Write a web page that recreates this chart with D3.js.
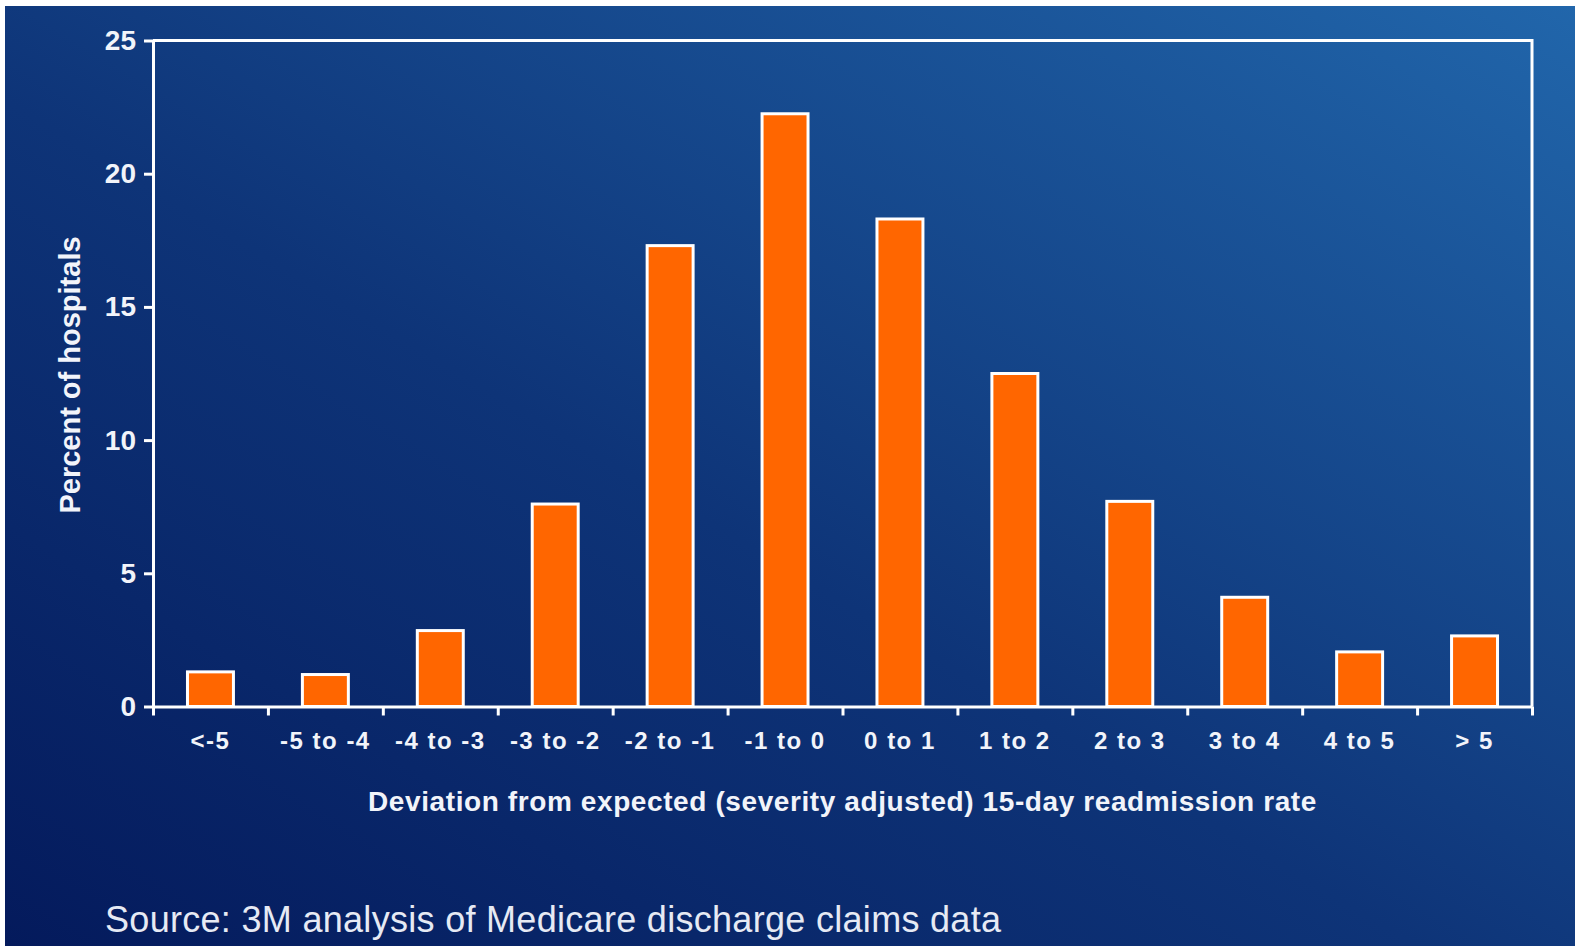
<!DOCTYPE html>
<html>
<head>
<meta charset="utf-8">
<script src="https://cdn.jsdelivr.net/npm/d3@7"></script>
<style>
  body { margin: 0; background: #ffffff; }
  svg { display: block; }
  .tick text { fill: #f2f4fa; font-family: "Liberation Sans", Arial, sans-serif; font-weight: bold; }
  .domain, .tick line { stroke: #ffffff; stroke-width: 3; }
</style>
</head>
<body>
<div class="graphic"></div>
<script>
var width = 1575;
var height = 946;

// data
var categories = ["<-5", "-5 to -4", "-4 to -3", "-3 to -2", "-2 to -1", "-1 to 0",
                  "0 to 1", "1 to 2", "2 to 3", "3 to 4", "4 to 5", "> 5"];
var percentHospitals = [1.3, 1.2, 2.85, 7.6, 17.3, 22.25, 18.3, 12.5, 7.7, 4.1, 2.05, 2.65];
var yTicks = [0, 5, 10, 15, 20, 25];

var plotLeft = 153, plotRight = 1532, plotTop = 40.5, plotBottom = 706.5;

var svg = d3.select("div.graphic").append("svg")
	.attr("width", width)
	.attr("height", height);

// background gradient, dark lower left to lighter upper right
var grad = svg.append("defs").append("linearGradient")
	.attr("id", "bg")
	.attr("x1", 0).attr("y1", 1)
	.attr("x2", 1).attr("y2", 0);
grad.append("stop").attr("offset", "0%").attr("stop-color", "#041a5c");
grad.append("stop").attr("offset", "45%").attr("stop-color", "#0e3478");
grad.append("stop").attr("offset", "100%").attr("stop-color", "#2166ab");

svg.append("rect")
	.attr("x", 5).attr("y", 6)
	.attr("width", width - 5).attr("height", height - 6)
	.attr("fill", "url(#bg)");

var x = d3.scaleBand()
	.domain(categories)
	.range([plotLeft, plotRight])
	.paddingInner(0.6)
	.paddingOuter(0.3);

var xEdges = d3.scaleLinear()
	.domain([0, categories.length])
	.range([plotLeft, plotRight]);

var y = d3.scaleLinear()
	.domain([0, 25])
	.range([plotBottom, plotTop]);

// bars
svg.append("g").selectAll("rect")
	.data(percentHospitals)
	.enter()
	.append("rect")
	.attr("x", function(d, i){ return x(categories[i]); })
	.attr("y", function(d){ return y(d); })
	.attr("width", x.bandwidth())
	.attr("height", function(d){ return plotBottom - y(d); })
	.attr("fill", "#ff6600")
	.attr("stroke", "#ffffff")
	.attr("stroke-width", 3);

// frame top and right
svg.append("line")
	.attr("x1", plotLeft).attr("x2", plotRight)
	.attr("y1", plotTop).attr("y2", plotTop)
	.attr("stroke", "#fff").attr("stroke-width", 3);
svg.append("line")
	.attr("x1", plotRight).attr("x2", plotRight)
	.attr("y1", plotTop - 1.5).attr("y2", plotBottom)
	.attr("stroke", "#fff").attr("stroke-width", 3);

// y axis
var yAxis = svg.append("g")
	.attr("transform", "translate(" + plotLeft + ",0)")
	.call(d3.axisLeft(y).tickValues(yTicks).tickSize(9).tickSizeOuter(0).tickPadding(8));
yAxis.selectAll(".tick text").attr("font-size", 28);

// x axis: boundary ticks
svg.append("g")
	.attr("transform", "translate(0," + plotBottom + ")")
	.call(d3.axisBottom(xEdges).tickValues(d3.range(categories.length + 1))
		.tickFormat("").tickSize(9).tickSizeOuter(0));

// x axis: labels
var xAxis = svg.append("g")
	.attr("transform", "translate(0," + plotBottom + ")")
	.call(d3.axisBottom(x).tickSize(0).tickPadding(25));
xAxis.select(".domain").remove();
xAxis.selectAll(".tick text")
	.attr("font-size", 24)
	.attr("letter-spacing", 1.5);

// axis titles
svg.append("text")
	.attr("x", (plotLeft + plotRight) / 2)
	.attr("y", 811)
	.attr("text-anchor", "middle")
	.attr("font-family", "Liberation Sans, Arial, sans-serif")
	.attr("font-weight", "bold")
	.attr("font-size", 28)
	.attr("letter-spacing", 0.6)
	.attr("fill", "#f2f4fa")
	.text("Deviation from expected (severity adjusted) 15-day readmission rate");

svg.append("text")
	.attr("transform", "translate(80,375) rotate(-90)")
	.attr("text-anchor", "middle")
	.attr("font-family", "Liberation Sans, Arial, sans-serif")
	.attr("font-weight", "bold")
	.attr("font-size", 29)
	.attr("fill", "#f2f4fa")
	.text("Percent of hospitals");

svg.append("text")
	.attr("x", 105)
	.attr("y", 932)
	.attr("font-family", "Liberation Sans, Arial, sans-serif")
	.attr("font-size", 36)
	.attr("letter-spacing", 0.3)
	.attr("fill", "#e6eaf4")
	.text("Source: 3M analysis of Medicare discharge claims data");
</script>
</body>
</html>
